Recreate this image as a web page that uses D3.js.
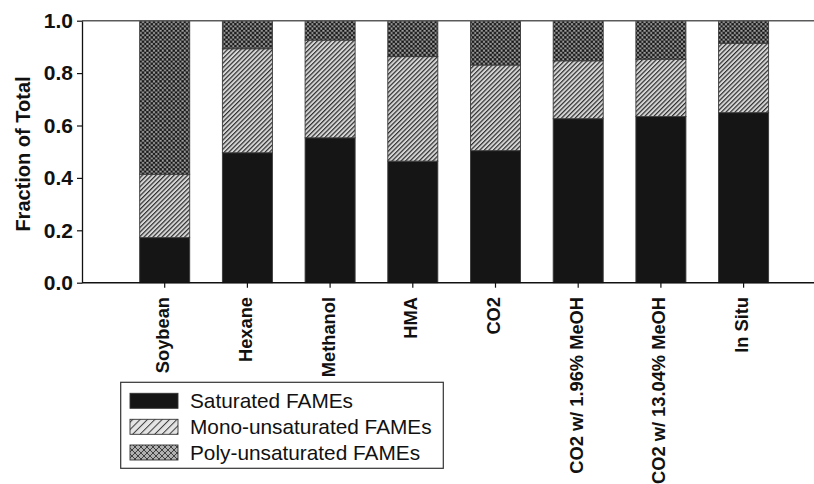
<!DOCTYPE html>
<html>
<head>
<meta charset="utf-8">
<script src="https://cdn.jsdelivr.net/npm/d3@7/dist/d3.min.js"></script>
<style>
  html, body { margin: 0; padding: 0; background: #fff; }
  svg { display: block; font-family: Arial, "Liberation Sans", Helvetica, sans-serif; }
</style>
</head>
<body>
<svg id="chart" width="814" height="484"></svg>
<script>
// ---- data ----
const categories = ["Soybean", "Hexane", "Methanol", "HMA", "CO2",
  "CO2 w/ 1.96% MeOH", "CO2 w/ 13.04% MeOH", "In Situ"];
const saturated = [0.172, 0.496, 0.553, 0.464, 0.504, 0.626, 0.634, 0.649];
const monoUnsat = [0.242, 0.397, 0.373, 0.399, 0.327, 0.221, 0.219, 0.265];
const polyUnsat = [0.586, 0.107, 0.074, 0.137, 0.169, 0.153, 0.147, 0.086];
const seriesNames = ["Saturated FAMEs", "Mono-unsaturated FAMEs", "Poly-unsaturated FAMEs"];
const yTicks = [0, 0.2, 0.4, 0.6, 0.8, 1.0];
const yLabel = "Fraction of Total";

// ---- layout ----
const svg = d3.select("#chart");
const plotLeft = 82, plotRight = 814, plotTop = 20.7, plotBottom = 282.7;
const step = 82.7;

const x = d3.scaleBand()
  .domain(categories)
  .range([plotLeft + step * 0.5, plotLeft + step * 8.5])
  .paddingInner(0.395)
  .paddingOuter(0.1975);
const y = d3.scaleLinear().domain([0, 1]).range([plotBottom, plotTop]);

// ---- patterns ----
const defs = svg.append("defs");
function hatch(id, spacing, lineW, bg, fg) {
  const p = defs.append("pattern").attr("id", id)
    .attr("patternUnits", "userSpaceOnUse")
    .attr("width", spacing).attr("height", spacing)
    .attr("patternTransform", "rotate(45)");
  p.append("rect").attr("width", spacing).attr("height", spacing).attr("fill", bg);
  p.append("rect").attr("x", 0).attr("y", 0).attr("width", lineW).attr("height", spacing).attr("fill", fg);
}
hatch("monoPat", 3.2, 1.2, "#d6d6d6", "#2e2e2e");
hatch("monoLeg", 5.2, 1.0, "#e4e4e4", "#3a3a3a");

(function() {
  const s = 4.4;
  const p = defs.append("pattern").attr("id", "polyPat")
    .attr("patternUnits", "userSpaceOnUse").attr("width", s).attr("height", s);
  p.append("rect").attr("width", s).attr("height", s).attr("fill", "#585858");
  [[0,0],[s,0],[0,s],[s,s],[s/2,s/2]].forEach(([cx,cy]) =>
    p.append("rect").attr("x", cx - 1.1).attr("y", cy - 1.1).attr("width", 2.2).attr("height", 2.2).attr("fill", "#121212"));
  [[s/2,0],[0,s/2],[s,s/2],[s/2,s]].forEach(([cx,cy]) =>
    p.append("rect").attr("x", cx - 0.9).attr("y", cy - 0.9).attr("width", 1.8).attr("height", 1.8).attr("fill", "#a4a4a4"));
})();
(function() {
  const s = 6;
  const p = defs.append("pattern").attr("id", "polyLeg")
    .attr("patternUnits", "userSpaceOnUse").attr("width", s).attr("height", s);
  p.append("rect").attr("width", s).attr("height", s).attr("fill", "#b0b0b0");
  p.append("path").attr("d", `M0,0L${s},${s}M${s},0L0,${s}`)
    .attr("stroke", "#333").attr("stroke-width", 0.9).attr("fill", "none");
})();

const fills = ["#151515", "url(#monoPat)", "url(#polyPat)"];
const legendFills = ["#151515", "url(#monoLeg)", "url(#polyLeg)"];

// ---- stacked bars ----
const rows = categories.map((c, i) => ({ cat: c, s0: saturated[i], s1: monoUnsat[i], s2: polyUnsat[i] }));
const stack = d3.stack().keys(["s0", "s1", "s2"]);
const stacked = stack(rows);

svg.append("g").selectAll("g")
  .data(stacked)
  .join("g")
  .attr("fill", (d, i) => fills[i])
  .selectAll("rect")
  .data(d => d)
  .join("rect")
  .attr("x", d => x(d.data.cat))
  .attr("width", x.bandwidth())
  .attr("y", d => y(d[1]))
  .attr("height", d => y(d[0]) - y(d[1]))
  .attr("stroke", "#3a3a3a")
  .attr("stroke-width", 0.9);

// ---- frame lines ----
svg.append("line").attr("x1", plotLeft).attr("x2", plotRight)
  .attr("y1", plotTop).attr("y2", plotTop)
  .attr("stroke", "#5a5a5a").attr("stroke-width", 1.5);
svg.append("line").attr("x1", plotLeft).attr("x2", plotRight)
  .attr("y1", plotBottom).attr("y2", plotBottom)
  .attr("stroke", "#111").attr("stroke-width", 1.5);

// ---- y axis ----
const yAxis = svg.append("g")
  .attr("transform", `translate(${plotLeft},0)`)
  .call(d3.axisLeft(y).tickValues(yTicks).tickFormat(d3.format(".1f"))
    .tickSize(5).tickSizeOuter(0).tickPadding(4));
yAxis.select(".domain").attr("stroke", "#111").attr("stroke-width", 1.3);
yAxis.selectAll(".tick line").attr("stroke", "#111").attr("stroke-width", 1.2);
yAxis.selectAll(".tick text")
  .attr("font-size", 21).attr("font-weight", "bold").attr("fill", "#111")
  .attr("font-family", "Arial, 'Liberation Sans', sans-serif");

// ---- x axis ----
const xAxis = svg.append("g")
  .attr("transform", `translate(0,${plotBottom})`)
  .call(d3.axisBottom(x).tickSize(5).tickSizeOuter(0).tickFormat(""));
xAxis.select(".domain").remove();
xAxis.selectAll(".tick line").attr("stroke", "#111").attr("stroke-width", 1.2);

svg.append("g").selectAll("text")
  .data(categories)
  .join("text")
  .attr("transform", d => `translate(${x(d) + x.bandwidth() / 2 + 4.5},297) rotate(-90)`)
  .attr("text-anchor", "end")
  .attr("font-size", 18.3).attr("font-weight", "bold").attr("fill", "#111")
  .text(d => d);

// ---- y label ----
svg.append("text")
  .attr("transform", "translate(29.5,154) rotate(-90)")
  .attr("text-anchor", "middle")
  .attr("font-size", 20).attr("font-weight", "bold").attr("fill", "#111")
  .text(yLabel);

// ---- legend ----
const lg = svg.append("g");
lg.append("rect").attr("x", 120.7).attr("y", 382.3).attr("width", 322.6).attr("height", 86)
  .attr("fill", "#fff").attr("stroke", "#333").attr("stroke-width", 1.2);
const legendRows = [393.3, 419.3, 445];
seriesNames.forEach((name, i) => {
  lg.append("rect").attr("x", 130).attr("y", legendRows[i]).attr("width", 48).attr("height", 15)
    .attr("fill", legendFills[i]).attr("stroke", "#333").attr("stroke-width", 0.9);
  lg.append("text").attr("x", 190).attr("y", legendRows[i] + 14.7)
    .attr("font-size", 20.8).attr("fill", "#111").text(name);
});
</script>
</body>
</html>
